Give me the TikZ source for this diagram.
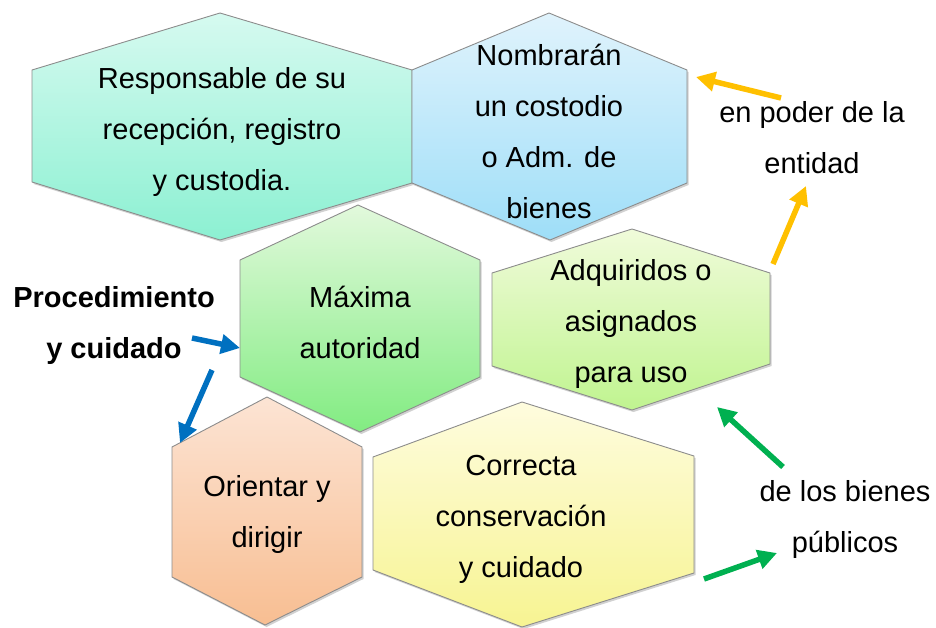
\documentclass[tikz,border=0pt]{standalone}
\usepackage{fontspec}
\setmainfont{Liberation Sans}
\usetikzlibrary{arrows.meta,shadows}
\definecolor{hexborder}{HTML}{8C8C8C}
\definecolor{arrOrange}{HTML}{FFC000}
\definecolor{arrGreen}{HTML}{00B050}
\definecolor{arrBlue}{HTML}{0070C0}
\tikzset{
  hexbox/.style={draw=hexborder, line width=0.9pt, line join=round,
    drop shadow={shadow xshift=1.5pt, shadow yshift=-2pt, opacity=0.18, fill=black}},
  txt/.style={align=center, inner sep=0pt, font=\fontsize{29}{51}\selectfont},
  arr/.style={line width=5.5pt, -{Triangle[length=19pt,width=19pt]}},
}
\begin{document}
\begin{tikzpicture}[x=1pt,y=-1pt]
\useasboundingbox (0,0) rectangle (936,628);
% Orientar (orange)
\path[hexbox, top color={rgb,255:red,252;green,228;blue,212}, bottom color={rgb,255:red,248;green,190;blue,146}]
  (267,397) -- (362,447) -- (362,577) -- (265,625) -- (172,577) -- (172,447) -- cycle;
% Correcta (yellow)
\path[hexbox, top color={rgb,255:red,254;green,252;blue,222}, bottom color={rgb,255:red,247;green,244;blue,146}]
  (522,402) -- (694,456) -- (694,573) -- (522,627) -- (373,570) -- (373,457) -- cycle;
% Responsable (teal)
\path[hexbox, top color={rgb,255:red,214;green,250;blue,240}, bottom color={rgb,255:red,140;green,240;blue,210}]
  (220,13) -- (412,70) -- (412,183) -- (220,240) -- (32,182) -- (32,70) -- cycle;
% Nombraran (blue)
\path[hexbox, top color={rgb,255:red,224;green,243;blue,252}, bottom color={rgb,255:red,158;green,222;blue,248}]
  (549,13) -- (687,70) -- (687,183) -- (550,240) -- (412,183) -- (412,70) -- cycle;
% Maxima (green)
\path[hexbox, top color={rgb,255:red,226;green,249;blue,220}, bottom color={rgb,255:red,130;green,236;blue,130}]
  (358,205) -- (480,260) -- (480,377) -- (360,432) -- (240,377) -- (240,260) -- cycle;
% Adquiridos (light green)
\path[hexbox, top color={rgb,255:red,240;green,251;blue,218}, bottom color={rgb,255:red,192;green,244;blue,144}]
  (632,229) -- (770,273) -- (770,364) -- (632,410) -- (492,366) -- (492,273) -- cycle;

% texts
\node[txt] (resp) at (222,132) {Responsable de su\\recepción, registro\\y custodia.};
\node[txt] (nomb) at (549,131) {Nombrarán\\un costodio\\o Adm. de\\bienes};
\node[txt] (poder) at (812,138) {en poder de la\\entidad};
\node[txt, font=\bfseries\fontsize{29}{51}\selectfont] (proc) at (114,326) {Procedimiento\\y cuidado};
\node[txt] (maxi) at (360,322) {Máxima\\autoridad};
\node[txt] (adq) at (631,324) {Adquiridos o\\asignados\\para uso};
\node[txt] (orie) at (267,514) {Orientar y\\dirigir};
\node[txt] (corr) at (521,519) {Correcta\\conservación\\y cuidado};
\node[txt] (bien) at (845,519) {de los bienes\\públicos};

% arrow end points
\coordinate (o1s) at (781,98);  \coordinate (o1e) at (696,77);
\coordinate (o2s) at (773,264); \coordinate (o2e) at (806,186);
\coordinate (g1s) at (783,467); \coordinate (g1e) at (717,407);
\coordinate (g2s) at (704,579); \coordinate (g2e) at (777,553);
\coordinate (b1s) at (192,338); \coordinate (b1e) at (240,348);
\coordinate (b2s) at (212,370); \coordinate (b2e) at (180,443);

\draw[arr, arrOrange] (o1s) -- (o1e);
\draw[arr, arrOrange] (o2s) -- (o2e);
\draw[arr, arrGreen] (g1s) -- (g1e);
\draw[arr, arrGreen] (g2s) -- (g2e);
\draw[arr, arrBlue] (b1s) -- (b1e);
\draw[arr, arrBlue] (b2s) -- (b2e);
\end{tikzpicture}
\end{document}
